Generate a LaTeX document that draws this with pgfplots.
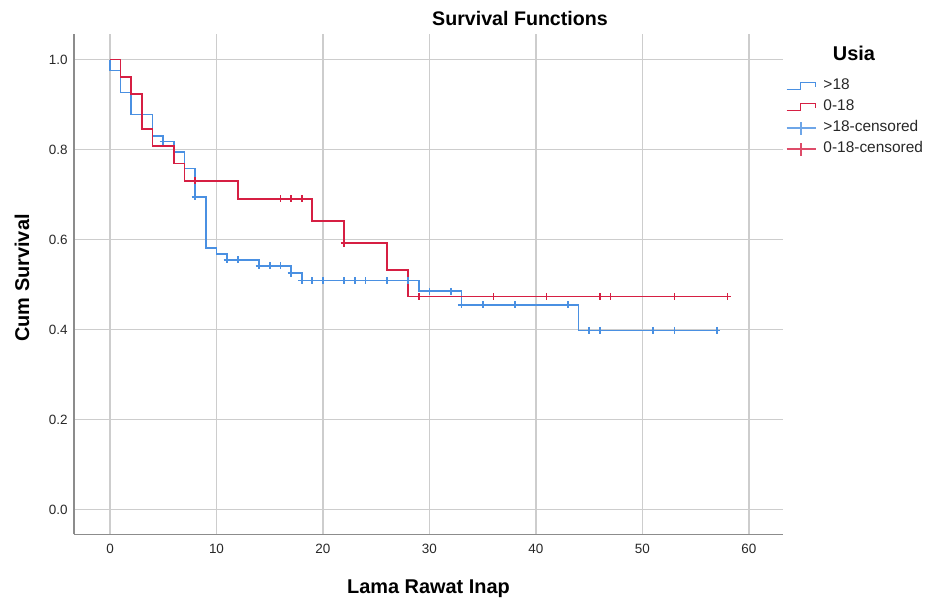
\documentclass[border=0pt]{standalone}
\usepackage{fontspec}
\setmainfont{Liberation Sans}
\usepackage{pgfplots}
\usepackage{pgfplotstable}
\pgfplotsset{compat=1.18}
\definecolor{blueC}{RGB}{74,144,226}
\definecolor{redC}{RGB}{214,31,67}
\definecolor{gridgray}{RGB}{205,205,205}
\definecolor{axisgray}{RGB}{140,140,140}
\definecolor{ticktext}{RGB}{40,40,40}

\pgfplotstableread{
t s
0 1
0 0.9756
1 0.9268
2 0.878
4 0.831
5 0.818
6 0.795
7 0.758
8 0.695
9 0.581
10 0.568
11 0.555
14 0.542
17 0.525
18 0.509
29 0.485
33 0.455
44 0.398
57 0.398
}\blueline

\pgfplotstableread{
t s
0 1
1 0.9615
2 0.9231
3 0.8462
4 0.8077
6 0.7692
7 0.7308
12 0.6902
19 0.6410
22 0.5918
26 0.5326
28 0.4734
58 0.4734
}\redline

\pgfplotstableread{
t s
5 0.818
8 0.695
11 0.555
12 0.555
14 0.542
15 0.542
16 0.542
17 0.525
18 0.509
19 0.509
20 0.509
22 0.509
23 0.509
24 0.509
26 0.509
28 0.509
30 0.485
32 0.485
33 0.455
35 0.455
38 0.455
43 0.455
45 0.398
46 0.398
51 0.398
53 0.398
57 0.398
}\bluecens

\pgfplotstableread{
t s
8 0.7308
16 0.6902
17 0.6902
18 0.6902
22 0.5918
29 0.4734
36 0.4734
41 0.4734
46 0.4734
47 0.4734
53 0.4734
58 0.4734
}\redcens

\begin{document}
\begin{tikzpicture}
\useasboundingbox (0,0) rectangle (925bp,599bp);
\begin{axis}[
  at={(74bp,64.5bp)}, anchor=south west,
  scale only axis, width=709bp, height=500.5bp,
  xmin=-3.38, xmax=63.2, ymin=-0.0556, ymax=1.057,
  axis x line*=bottom, axis y line*=left,
  axis line style={draw=axisgray, line width=1.2bp, -},
  xtick={0,10,20,30,40,50,60},
  ytick={0,0.2,0.4,0.6,0.8,1.0},
  grid=major,
  major grid style={draw=gridgray, line width=1.2bp},
  major tick length=0pt,
  /pgf/number format/assume math mode=true,
  tick label style={font=\fontsize{13.5}{15}\selectfont, text=ticktext},
  yticklabel style={/pgf/number format/fixed, /pgf/number format/fixed zerofill, /pgf/number format/precision=1, xshift=-3bp},
  xticklabel style={yshift=-6.5bp},
  legend cell align=left,
  legend style={at={(axis description cs:1.0042,0.911)}, anchor=north west,
    draw=none, fill=none, inner sep=0pt, outer sep=0pt,
    row sep=6bp, column sep=7bp,
    nodes={inner sep=0pt, text height=11bp, text depth=4bp,
      font=\fontsize{15.5}{18}\selectfont, text=ticktext}},
]
\addplot[const plot mark left, draw=blueC, line width=1.7bp,
  legend image code/.code={\draw[blueC, line width=1.5bp] (0bp,-3.5bp) -- (14bp,-3.5bp) -- (14bp,3.5bp) -- (29bp,3.5bp) -- (29bp,-1bp);}]
  table[x=t, y=s] {\blueline};
\addlegendentry{>18}
\addplot[const plot mark left, draw=redC, line width=1.7bp,
  legend image code/.code={\draw[redC, line width=1.5bp] (0bp,-3.5bp) -- (14bp,-3.5bp) -- (14bp,3.5bp) -- (29bp,3.5bp) -- (29bp,-1bp);}]
  table[x=t, y=s] {\redline};
\addlegendentry{0-18}
\addplot[only marks, mark=+, mark size=3.5bp, mark options={draw=blueC, line width=1.7bp},
  legend image code/.code={\draw[blueC!80, line width=1.5bp] (0bp,0bp) -- (29bp,0bp); \draw[blueC!80, line width=1.5bp] (14.5bp,-6.5bp) -- (14.5bp,6.5bp);}]
  table[x=t, y=s] {\bluecens};
\addlegendentry{>18-censored}
\addplot[only marks, mark=+, mark size=3.5bp, mark options={draw=redC, line width=1.7bp},
  legend image code/.code={\draw[redC!80, line width=1.5bp] (0bp,0bp) -- (29bp,0bp); \draw[redC!80, line width=1.5bp] (14.5bp,-6.5bp) -- (14.5bp,6.5bp);}]
  table[x=t, y=s] {\redcens};
\addlegendentry{0-18-censored}
\end{axis}
\node[anchor=base, font=\bfseries\fontsize{19.7}{22}\selectfont] at (520bp,573.3bp) {Survival Functions};
\node[anchor=base, font=\bfseries\fontsize{20}{22}\selectfont] at (428.5bp,6bp) {Lama Rawat Inap};
\node[anchor=base, rotate=90, font=\bfseries\fontsize{20}{22}\selectfont] at (29bp,321bp) {Cum Survival};
\node[anchor=base, font=\bfseries\fontsize{20}{22}\selectfont] at (854bp,538.3bp) {Usia};
\end{tikzpicture}
\end{document}
